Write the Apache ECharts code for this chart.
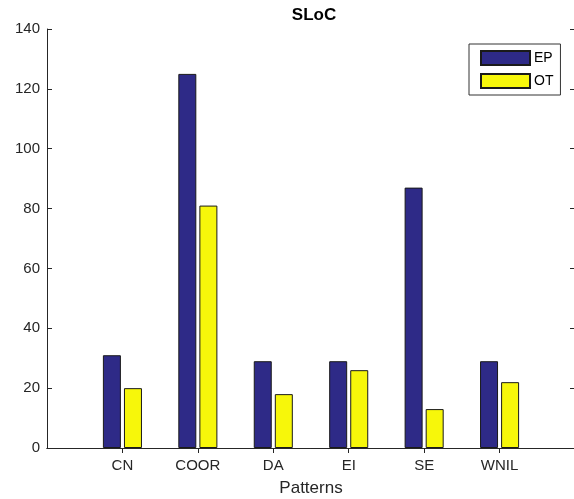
<!DOCTYPE html>
<html>
<head>
<meta charset="utf-8">
<script src="https://cdn.jsdelivr.net/npm/echarts@6/dist/echarts.min.js"></script>
<style>
html,body{margin:0;padding:0;background:#fff;}
#chart{width:574px;height:499px;}
</style>
</head>
<body>
<div id="chart"></div>
<script>
const categories = ['CN', 'COOR', 'DA', 'EI', 'SE', 'WNIL'];
const epValues = [31, 125, 29, 29, 87, 29];
const otValues = [20, 81, 18, 26, 13, 22];
const yTicks = [0, 20, 40, 60, 80, 100, 120, 140];

// pad with empty slots so categories sit at 1..6 of a 0..7 range
const axisCats = [''].concat(categories, ['']);
const pad = arr => [null].concat(arr, [null]);

const font = 'Liberation Sans, Arial, sans-serif';
const axisColor = '#262626';

const chart = echarts.init(document.getElementById('chart'), null, {renderer: 'canvas'});
chart.setOption({
  animation: false,
  backgroundColor: '#ffffff',
  title: {
    text: 'SLoC',
    left: 309, top: 2, textAlign: 'center',
    textStyle: {fontFamily: font, fontWeight: 'bold', fontSize: 17, color: '#000'}
  },
  legend: {
    orient: 'vertical',
    left: 469, top: 44,
    padding: [6, 7, 6, 11],
    itemWidth: 49, itemHeight: 14, itemGap: 7,
    icon: 'rect',
    backgroundColor: '#fff',
    borderColor: '#333', borderWidth: 1,
    textStyle: {fontFamily: font, fontSize: 14, color: '#000', padding: [0, 0, 0, -1]},
    data: ['EP', 'OT']
  },
  grid: {left: 47, right: -1, top: 29, bottom: 51, containLabel: false, outerBoundsMode: 'none'},
  xAxis: [{
    type: 'category',
    data: axisCats,
    boundaryGap: false,
    position: 'bottom',
    axisLine: {show: true, lineStyle: {color: axisColor, width: 1}},
    axisTick: {show: false},
    axisLabel: {fontFamily: font, fontSize: 15, color: axisColor, margin: 10},
    name: 'Patterns',
    nameLocation: 'middle',
    nameGap: 32,
    nameTextStyle: {fontFamily: font, fontSize: 17, color: axisColor},
    splitLine: {show: false}
  }, {
    type: 'category',
    data: axisCats,
    boundaryGap: false,
    position: 'top',
    axisLine: {show: true, lineStyle: {color: axisColor, width: 1}},
    axisTick: {show: true, inside: true, length: 5, lineStyle: {color: axisColor},
      interval: (i) => i > 0 && i < axisCats.length - 1},
    axisLabel: {show: false},
    splitLine: {show: false}
  }],
  yAxis: [{
    type: 'value',
    min: yTicks[0], max: yTicks[yTicks.length - 1], interval: 20,
    position: 'left',
    axisLine: {show: true, lineStyle: {color: axisColor, width: 1}},
    axisTick: {show: true, inside: true, length: 5, lineStyle: {color: axisColor}},
    axisLabel: {fontFamily: font, fontSize: 15, color: axisColor, margin: 7},
    splitLine: {show: false}
  }, {
    type: 'value',
    min: yTicks[0], max: yTicks[yTicks.length - 1], interval: 20,
    position: 'right',
    axisLine: {show: true, lineStyle: {color: axisColor, width: 1}},
    axisTick: {show: true, inside: true, length: 5, lineStyle: {color: axisColor}},
    axisLabel: {show: false},
    splitLine: {show: false}
  }],
  series: [{
    name: 'EP', type: 'bar',
    data: pad(epValues),
    barWidth: 18, barGap: '17%',
    itemStyle: {color: '#2e2a87', borderColor: '#1a1a1a', borderWidth: 1}
  }, {
    name: 'OT', type: 'bar',
    data: pad(otValues),
    barWidth: 18,
    itemStyle: {color: '#f7f70a', borderColor: '#1a1a1a', borderWidth: 1}
  }]
});
</script>
</body>
</html>
